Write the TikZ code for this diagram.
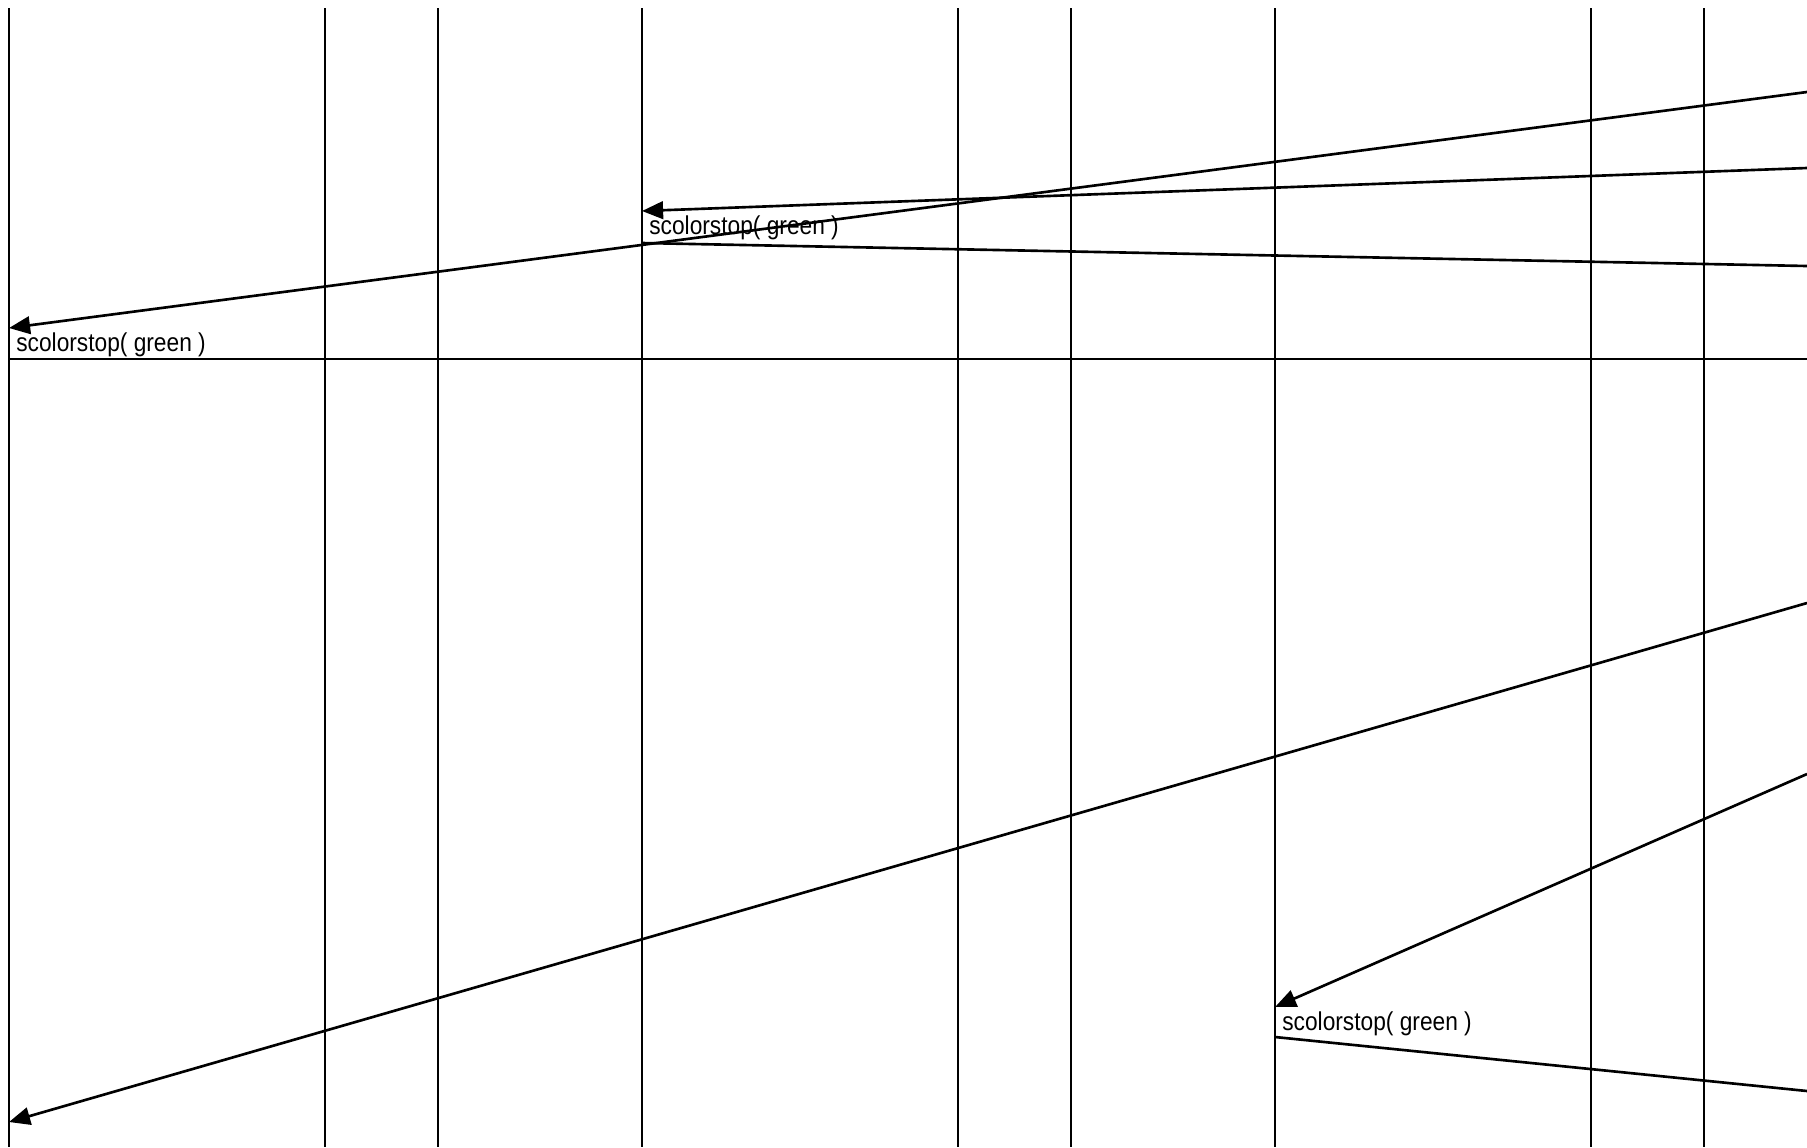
\documentclass[tikz,border=0pt]{standalone}
\usepackage{fontspec}
\setmainfont{Liberation Sans}
\newfontfamily\lblfont[FakeStretch=0.88]{Liberation Sans}
\usetikzlibrary{arrows.meta,calc}

\tikzset{
  lifeline/.style={line width=1.5pt},
  msg/.style={line width=1.5pt},
  call/.style={msg, -{Triangle[length=12pt,width=10pt]}},
  lbl/.style={anchor=base west, inner sep=0pt, font=\lblfont\fontsize{14.7}{17}\selectfont},
}

\begin{document}
\begin{tikzpicture}[x=0.02cm, y=-0.02cm]
  \useasboundingbox (0,0) rectangle (1807,1147);

  % lifelines
  \foreach \n/\xx in {a/9, b/325, c/438, d/642, e/958, f/1071, g/1275, h/1591, i/1704} {
    \coordinate (\n top) at (\xx,8);
    \coordinate (\n bot) at (\xx,1147);
    \draw[lifeline] (\n top) -- (\n bot);
  }

  % ends at the right edge
  \coordinate (r1) at (1807,92);
  \coordinate (r2) at (1807,168);
  \coordinate (r3) at (1807,266);
  \coordinate (r4) at (1807,359);
  \coordinate (r5) at (1807,603);
  \coordinate (r6) at (1807,774);
  \coordinate (r7) at (1807,1091);

  % ends on the lifelines
  \coordinate (a in) at (9,328);
  \coordinate (a out) at (9,359);
  \coordinate (a in2) at (9,1122);
  \coordinate (d in) at (642,211);
  \coordinate (d out) at (642,243);
  \coordinate (g in) at (1275,1007);
  \coordinate (g out) at (1275,1037);

  % messages
  \draw[call] (r1) -- (a in);
  \draw[call] (r2) -- (d in);
  \draw[msg] (d out) -- (r3);
  \draw[msg] (a out) -- (r4);
  \draw[call] (r5) -- (a in2);
  \draw[call] (r6) -- (g in);
  \draw[msg] (g out) -- (r7);

  % labels
  \node[lbl] (l1) at ($(d out)+(7,-9)$) {scolorstop( green )};
  \node[lbl] (l2) at ($(a out)+(7,-8)$) {scolorstop( green )};
  \node[lbl] (l3) at ($(g out)+(7,-7)$) {scolorstop( green )};
\end{tikzpicture}
\end{document}
